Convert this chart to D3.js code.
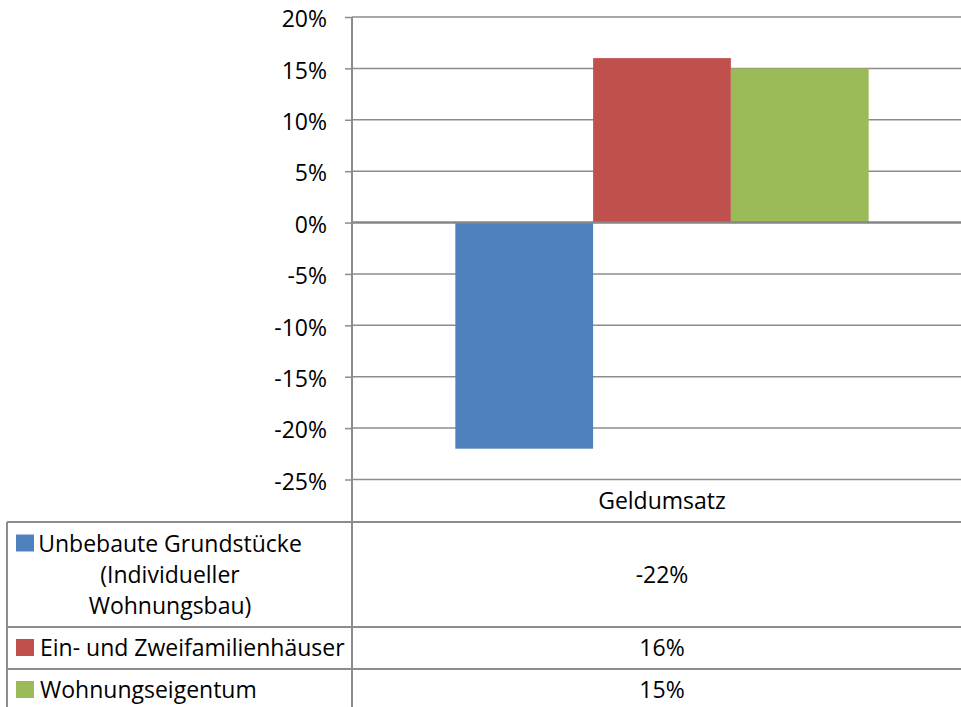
<!DOCTYPE html>
<html>
<head>
<meta charset="utf-8">
<script src="https://cdn.jsdelivr.net/npm/d3@7"></script>
<style>
  body { margin: 0; background: #fff; }
  svg { display: block; font-family: "Open Sans", sans-serif; }
</style>
</head>
<body>
<div id="chart"></div>
<script>
// data
const categories = ["Geldumsatz"];
const seriesNames = ["Unbebaute Grundstücke (Individueller Wohnungsbau)", "Ein- und Zweifamilienhäuser", "Wohnungseigentum"];
const seriesLabelLines = [["Unbebaute Grundstücke", "(Individueller", "Wohnungsbau)"], ["Ein- und Zweifamilienhäuser"], ["Wohnungseigentum"]];
const seriesValues = [-22, 16, 15];
const seriesColors = ["#4F81BD", "#C0504D", "#9BBB59"];
const yTicks = [-25, -20, -15, -10, -5, 0, 5, 10, 15, 20];

(function() {
  const W = 961, H = 707;
  const plot = {left: 352, right: 972, top: 17, bottom: 479.5};
  const tableLeft = 7;
  // row bottoms of the data table (category row, then one row per series)
  const rowEdges = [plot.bottom, 522, 627, 669, 711];
  const lineColor = "#8c8c8c";
  const fontSize = 23;

  const svg = d3.select("#chart").append("svg")
    .attr("width", W).attr("height", H);

  const y = d3.scaleLinear()
    .domain([d3.min(yTicks), d3.max(yTicks)])
    .range([plot.bottom, plot.top]);

  const x0 = d3.scaleBand()
    .domain(categories)
    .range([plot.left, plot.right]);

  // Excel style gap width 150%
  const barW = x0.bandwidth() / 4.5;
  const x1 = d3.scaleBand()
    .domain(seriesNames)
    .range([barW * 0.75, x0.bandwidth() - barW * 0.75]);

  // gridlines
  svg.append("g")
    .selectAll("line")
    .data(yTicks.filter(d => d !== 0))
    .join("line")
      .attr("x1", plot.left).attr("x2", plot.right)
      .attr("y1", d => y(d)).attr("y2", d => y(d))
      .attr("stroke", lineColor)
      .attr("stroke-width", 1.5);

  // bars
  const bars = seriesNames.map((s, i) => ({name: s, value: seriesValues[i], color: seriesColors[i]}));
  svg.append("g")
    .selectAll("rect")
    .data(bars)
    .join("rect")
      .attr("x", d => x0(categories[0]) + x1(d.name))
      .attr("width", x1.bandwidth())
      .attr("y", d => y(Math.max(0, d.value)))
      .attr("height", d => Math.abs(y(d.value) - y(0)))
      .attr("fill", d => d.color);

  // zero line
  svg.append("line")
    .attr("x1", plot.left).attr("x2", plot.right)
    .attr("y1", y(0)).attr("y2", y(0))
    .attr("stroke", "#868686")
    .attr("stroke-width", 2.5);

  // y axis
  const yAxis = svg.append("g")
    .attr("transform", `translate(${plot.left},0)`)
    .call(d3.axisLeft(y)
      .tickValues(yTicks)
      .tickSize(7)
      .tickPadding(18)
      .tickFormat(d => d + "%"));
  yAxis.select(".domain").remove();
  yAxis.selectAll(".tick line").attr("stroke", lineColor).attr("stroke-width", 1.5);
  yAxis.selectAll(".tick text")
    .attr("font-family", "Open Sans, sans-serif")
    .attr("font-size", fontSize)
    .attr("fill", "#000")
    .attr("dy", "0.42em");

  // vertical axis line running through table
  svg.append("line")
    .attr("x1", plot.left).attr("x2", plot.left)
    .attr("y1", plot.top).attr("y2", rowEdges[rowEdges.length - 1])
    .attr("stroke", lineColor)
    .attr("stroke-width", 2);

  // data table
  const table = svg.append("g");
  table.selectAll("line.row")
    .data(rowEdges.slice(1))
    .join("line")
      .attr("class", "row")
      .attr("x1", tableLeft).attr("x2", plot.right)
      .attr("y1", d => d).attr("y2", d => d)
      .attr("stroke", lineColor)
      .attr("stroke-width", 2);
  table.append("line")
    .attr("x1", tableLeft).attr("x2", tableLeft)
    .attr("y1", rowEdges[1]).attr("y2", rowEdges[rowEdges.length - 1])
    .attr("stroke", lineColor)
    .attr("stroke-width", 2);

  const catCenter = x0(categories[0]) + x0.bandwidth() / 2;

  table.append("text")
    .attr("x", catCenter)
    .attr("y", (rowEdges[0] + rowEdges[1]) / 2)
    .attr("dy", "0.35em")
    .attr("text-anchor", "middle")
    .attr("font-size", fontSize)
    .text(categories[0]);

  bars.forEach((d, i) => {
    const top = rowEdges[i + 1], bottom = rowEdges[i + 2];
    const mid = (top + bottom) / 2;
    const lines = seriesLabelLines[i];
    const lh = 31;
    const firstY = mid - (lines.length - 1) * lh / 2;

    // swatch
    table.append("rect")
      .attr("x", 16)
      .attr("y", firstY - 9)
      .attr("width", 18)
      .attr("height", 17)
      .attr("fill", d.color);

    lines.forEach((t, j) => {
      table.append("text")
        .attr("x", lines.length > 1 ? 170 : 40)
        .attr("y", firstY + j * lh)
        .attr("dy", "0.35em")
        .attr("text-anchor", lines.length > 1 ? "middle" : "start")
        .attr("font-size", fontSize)
        .text(t);
    });

    table.append("text")
      .attr("x", catCenter)
      .attr("y", mid)
      .attr("dy", "0.35em")
      .attr("text-anchor", "middle")
      .attr("font-size", fontSize)
      .text(d.value + "%");
  });
})();
</script>
</body>
</html>
